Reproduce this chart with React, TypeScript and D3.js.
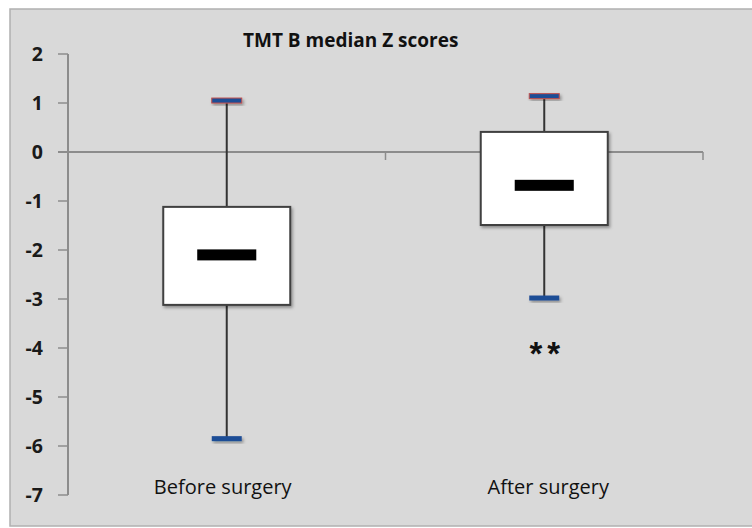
import React from 'react';
import * as d3 from 'd3';

const width = 752;
const height = 528;
const margin = { top: 54, right: 49, bottom: 33, left: 68 };

// values
const categories = ['Before surgery', 'After surgery'];
const whiskerHigh = [1.05, 1.14];
const upperQuart = [-1.12, 0.41];
const medians = [-2.1, -0.68];
const lowerQuart = [-3.12, -1.49];
const whiskerLow = [-5.85, -2.98];
const yTicks = [2, 1, 0, -1, -2, -3, -4, -5, -6, -7];
const marks = ['', '**'];
const title = 'TMT B median Z scores';

const font = '"Open Sans", Lato, "Liberation Sans", sans-serif';
const axisGray = '#8c8c8c';

export default function App() {
    const xScale = d3.scaleBand().domain(categories).range([margin.left, width - margin.right]);
    const yScale = d3.scaleLinear().domain([-7, 2]).range([height - margin.bottom, margin.top]);

    const bw = xScale.bandwidth();
    const boxW = bw * 0.4;
    const medW = bw * 0.186;
    const capW = 30;
    const zeroY = yScale(0);

    const boxes = categories.map((c, i) => ({
        cx: (xScale(c) as number) + bw / 2,
        hi: yScale(whiskerHigh[i]),
        q3: yScale(upperQuart[i]),
        med: yScale(medians[i]),
        q1: yScale(lowerQuart[i]),
        lo: yScale(whiskerLow[i]),
    }));

    return (
        <svg width={width} height={height} style={{ position: 'absolute', left: 0, top: 0 }}>
            <defs>
                <filter id="shadow" x="-20%" y="-20%" width="150%" height="160%">
                    <feDropShadow dx="1.5" dy="2" stdDeviation="1.5" floodColor="#000" floodOpacity="0.35" />
                </filter>
            </defs>
            <rect x={0} y={0} width={width} height={height} fill="#fff" />
            <rect x={10} y={9} width={width} height={517} fill="#d9d9d9" stroke="#b0b0b0" strokeWidth={1.5} />

            {/* y axis */}
            <line x1={margin.left} x2={margin.left} y1={yScale(2)} y2={yScale(-7)} stroke={axisGray} strokeWidth={2} />
            {yTicks.map(t => (
                <g key={t}>
                    <line x1={margin.left - 10} x2={margin.left} y1={yScale(t)} y2={yScale(t)} stroke={axisGray} strokeWidth={1.5} />
                    <text x={43} y={yScale(t)} dy="0.36em" textAnchor="end" fontFamily={font} fontWeight={700} fontSize={19.5} fill="#1a1a1a">
                        {t}
                    </text>
                </g>
            ))}

            {/* zero line with category ticks */}
            <line x1={margin.left - 10} x2={width - margin.right} y1={zeroY} y2={zeroY} stroke={axisGray} strokeWidth={2} />
            {categories.map(c => (
                <line key={c} x1={(xScale(c) as number) + bw} x2={(xScale(c) as number) + bw} y1={zeroY} y2={zeroY + 8} stroke={axisGray} strokeWidth={1.5} />
            ))}

            {boxes.map((b, i) => (
                <g key={i}>
                    <line x1={b.cx} x2={b.cx} y1={b.hi} y2={b.lo} stroke="#333" strokeWidth={2} />
                    <rect x={b.cx - boxW / 2} y={b.q3} width={boxW} height={b.q1 - b.q3} fill="#fff" stroke="#404040" strokeWidth={2} filter="url(#shadow)" />
                    <rect x={b.cx - medW / 2} y={b.med - 5.5} width={medW} height={11} fill="#000" />
                    <rect x={b.cx - capW / 2} y={b.hi - 2.5} width={capW} height={5} fill="#1f4e96" stroke="#c0504d" strokeWidth={1} filter="url(#shadow)" />
                    <rect x={b.cx - capW / 2} y={b.lo - 2.5} width={capW} height={5} fill="#1f4e96" filter="url(#shadow)" />
                    <text x={b.cx + 3} y={yScale(-4) + 17} textAnchor="middle" fontFamily='"Liberation Sans", Arial, sans-serif' fontWeight={700} fontSize={33} letterSpacing={5} fill="#111">
                        {marks[i]}
                    </text>
                    <text x={b.cx + (i === 0 ? -4 : 4)} y={494} textAnchor="middle" fontFamily={font} fontSize={20} fill="#111">
                        {categories[i]}
                    </text>
                </g>
            ))}

            <text x={243} y={47} fontFamily={font} fontWeight={700} fontSize={19} fill="#111">
                {title}
            </text>
        </svg>
    );
}
